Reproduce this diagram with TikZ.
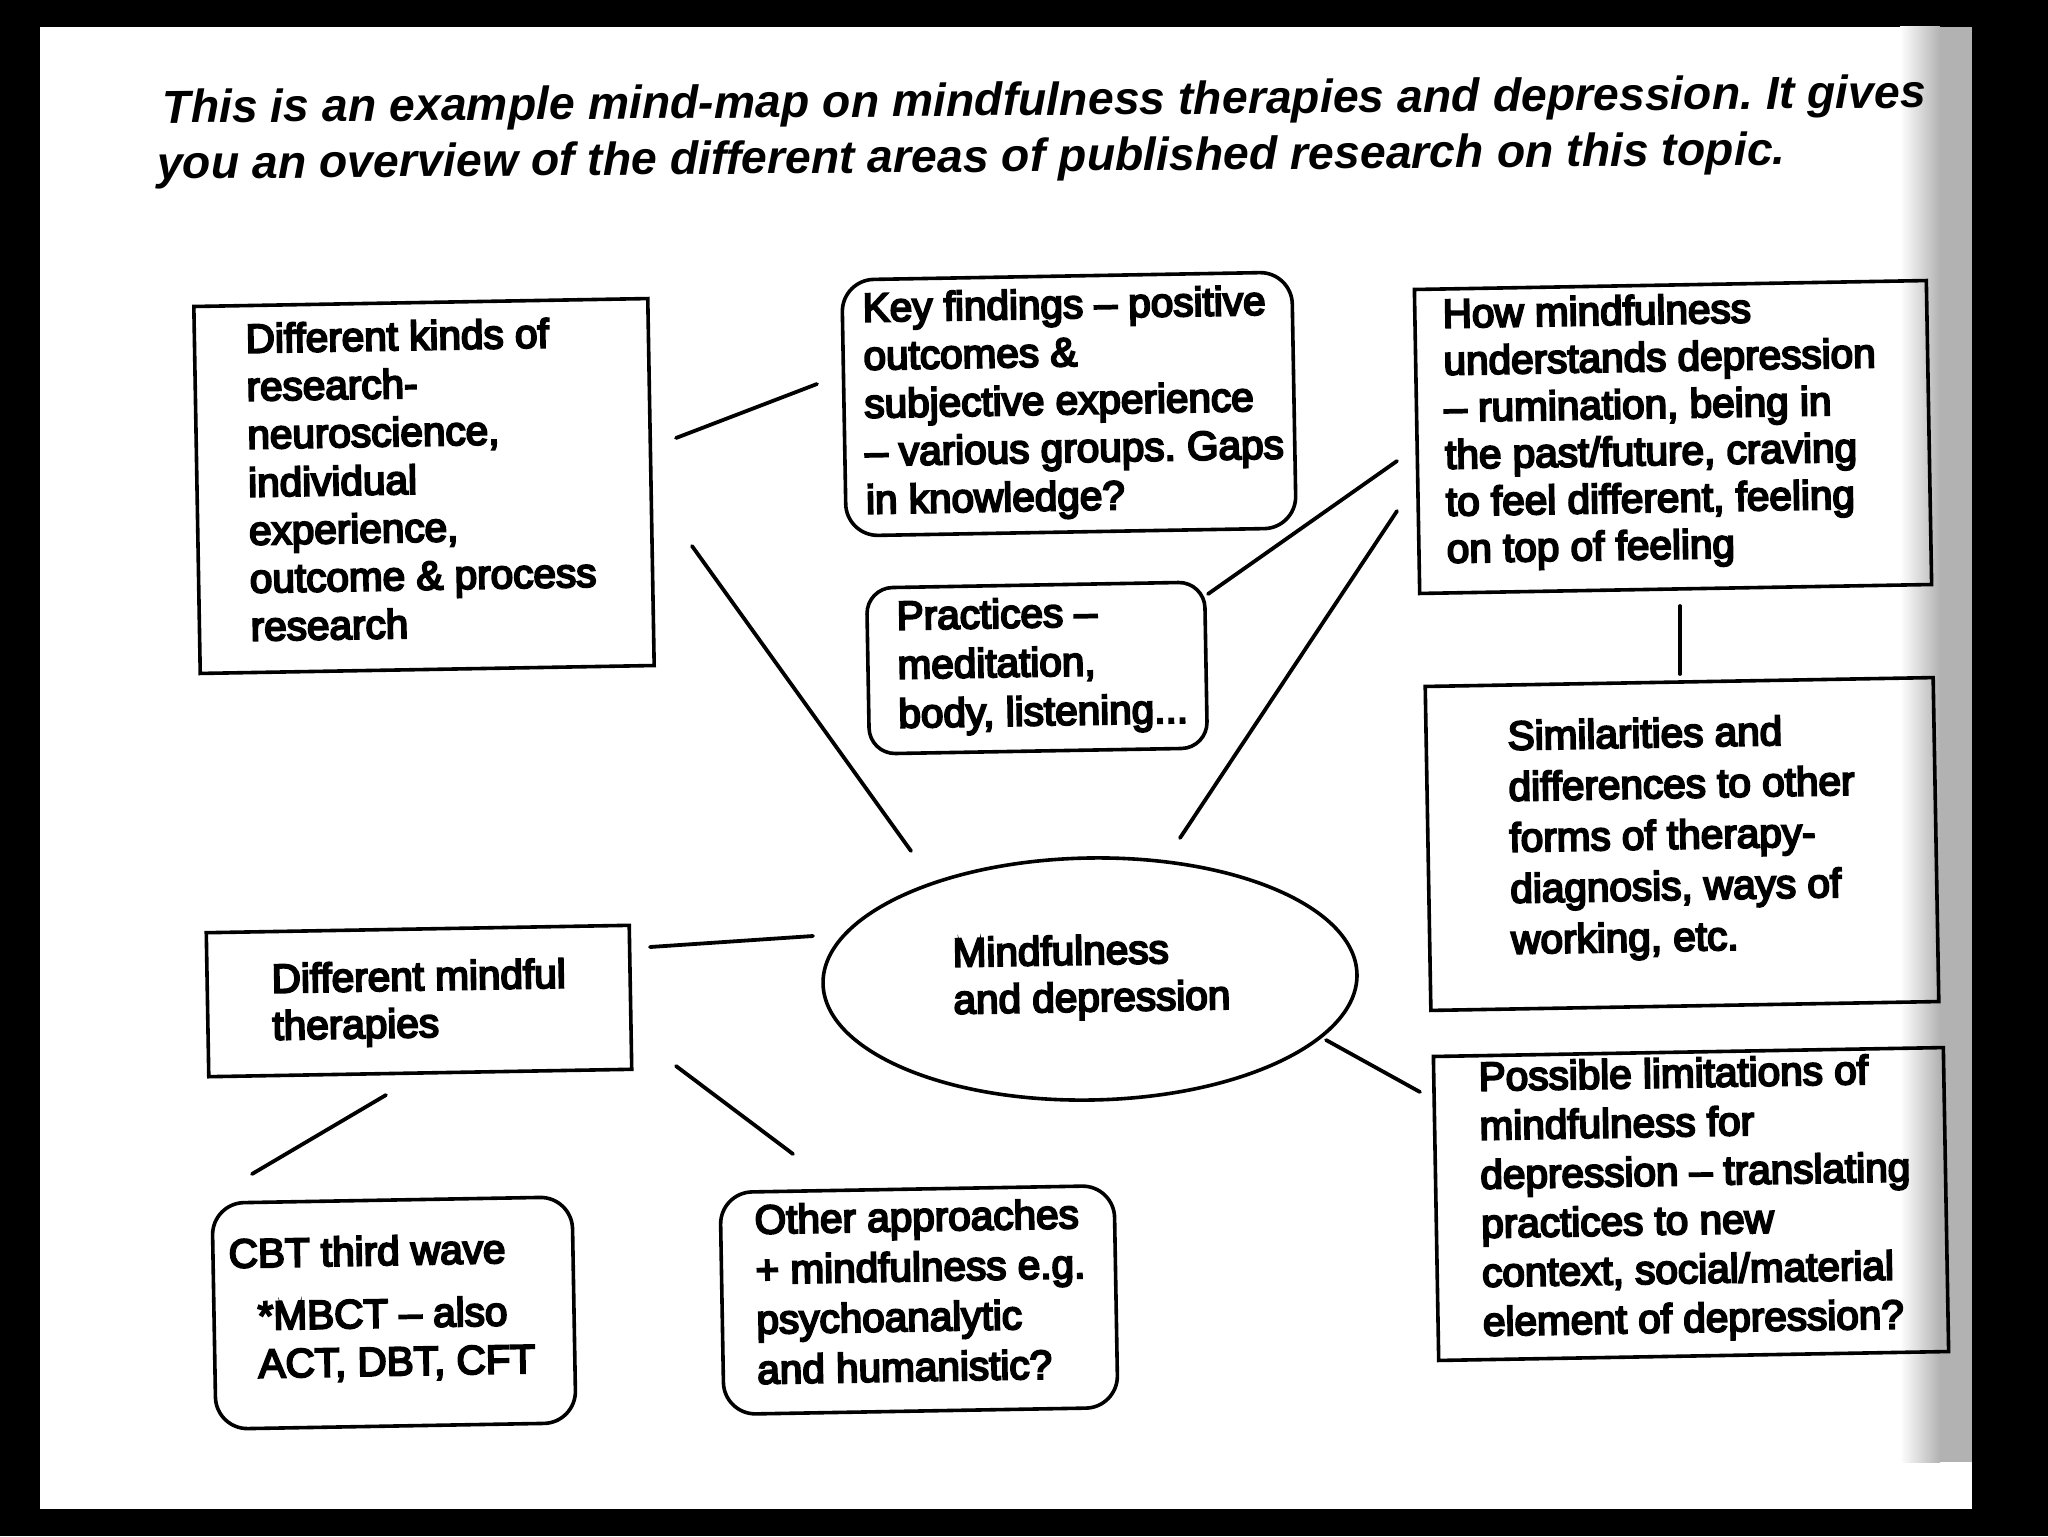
\documentclass[tikz,border=0pt]{standalone}
\usepackage{fontspec}
\setmainfont{Liberation Sans}
\newfontfamily\bodyfont{Liberation Sans}[FakeBold=5]
\usetikzlibrary{shapes.geometric}
\frenchspacing
\begin{document}
\begin{tikzpicture}[x=0.5pt,y=-0.5pt,
  box/.style={draw,line width=1.8pt,rectangle,inner sep=0pt,rotate=1},
  rbox/.style={box,rounded corners=16pt},
  txt/.style={anchor=north west,inner sep=0pt,align=left,rotate=1,
    font=\bodyfont\frenchspacing\fontsize{20.25pt}{#1}\selectfont},
  txt/.default=24pt,
  ttl/.style={anchor=north west,inner sep=0pt,rotate=0.5,align=left,
    font=\bfseries\itshape\frenchspacing\fontsize{23.2pt}{28pt}\selectfont},
  link/.style={line width=1.9pt,line cap=round}]
\useasboundingbox (0,0) rectangle (2048,1536);
\fill[black] (0,0) rectangle (2048,1536);
\fill[white] (40,27) rectangle (1972,1509);
\shade[left color=white,right color=gray!60] (1900,27) rectangle (1940,1462);
\fill[gray!60] (1940,27) rectangle (1972,1462);

% title
\node[ttl] (title) at (162,89) {This is an example mind-map on mindfulness therapies and depression. It gives\\\hspace*{-3pt}you an overview of the different areas of published research on this topic.};

% boxes
\node[box,minimum width=227pt,minimum height=183.5pt] (kinds) at (424,486) {};
\node[rbox,minimum width=225pt,minimum height=128pt] (key) at (1069,404) {};
\node[rbox,rounded corners=13pt,minimum width=169pt,minimum height=83pt] (prac) at (1037,668) {};
\node[box,minimum width=256pt,minimum height=152pt] (how) at (1673,437) {};
\node[box,minimum width=254pt,minimum height=162pt] (sim) at (1682,844) {};
\node[box,minimum width=255pt,minimum height=152pt] (lim) at (1691,1204) {};
\node[draw,ellipse,line width=1.8pt,inner sep=0pt,rotate=1,minimum width=267pt,minimum height=121pt] (core) at (1090,979) {};
\node[box,minimum width=211.5pt,minimum height=72pt] (ther) at (419,1001) {};
\node[rbox,minimum width=180pt,minimum height=113pt] (cbt) at (394,1313) {};
\node[rbox,minimum width=197pt,minimum height=111pt] (other) at (919,1300) {};

% texts
\node[txt] (kindsT) at (245,323) {Different kinds of\\research-\\neuroscience,\\individual\\experience,\\outcome \& process\\research};
\node[txt] (keyT) at (862,292) {Key findings – positive\\outcomes \&\\subjective experience\\– various groups. Gaps\\in knowledge?};
\node[txt=24.5pt] (pracT) at (896,600) {Practices –\\meditation,\\body, listening...};
\node[txt=23.5pt] (howT) at (1442,298) {How mindfulness\\understands depression\\– rumination, being in\\the past/future, craving\\to feel different, feeling\\on top of feeling};
\node[txt=25.5pt] (simT) at (1507,720) {Similarities and\\differences to other\\forms of therapy-\\diagnosis, ways of\\working, etc.};
\node[txt=24.5pt] (limT) at (1478,1061) {Possible limitations of\\mindfulness for\\depression – translating\\practices to new\\context, social/material\\element of depression?};
\node[txt=23.5pt] (coreT) at (952,937) {Mindfulness\\and depression};
\node[txt=23.5pt] (therT) at (271,963) {Different mindful\\therapies};
\node[txt] (cbtT) at (228,1238) {CBT third wave};
\node[txt] (cbtT2) at (257,1300) {*MBCT – also\\ACT, DBT, CFT};
\node[txt=25pt] (otherT) at (754,1204) {Other approaches\\+ mindfulness e.g.\\psychoanalytic\\and humanistic?};

% connector ends
\coordinate (a1) at (676,438);  \coordinate (b1) at (817,384);
\coordinate (a2) at (692,546);  \coordinate (b2) at (911,851);
\coordinate (a3) at (1208,594); \coordinate (b3) at (1397,461);
\coordinate (a4) at (1180,838); \coordinate (b4) at (1397,511);
\coordinate (a5) at (1680,606); \coordinate (b5) at (1680,674);
\coordinate (a6) at (1326,1040);\coordinate (b6) at (1420,1092);
\coordinate (a7) at (650,947);  \coordinate (b7) at (813,936);
\coordinate (a8) at (386,1095); \coordinate (b8) at (252,1174);
\coordinate (a9) at (676,1066); \coordinate (b9) at (793,1154);

\draw[link] (a1) -- (b1);
\draw[link] (a2) -- (b2);
\draw[link] (a3) -- (b3);
\draw[link] (a4) -- (b4);
\draw[link] (a5) -- (b5);
\draw[link] (a6) -- (b6);
\draw[link] (a7) -- (b7);
\draw[link] (a8) -- (b8);
\draw[link] (a9) -- (b9);
\end{tikzpicture}
\end{document}
